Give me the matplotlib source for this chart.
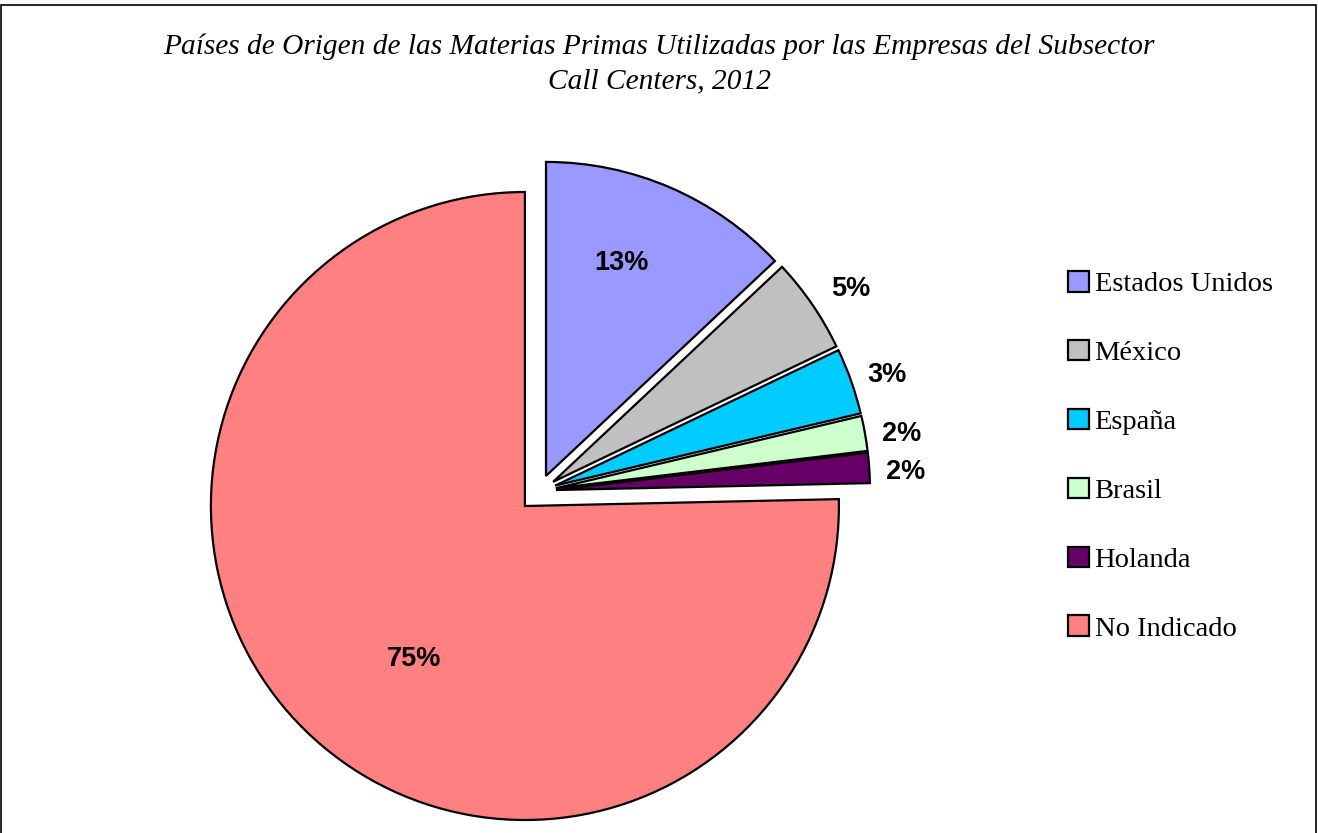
import numpy as np
import matplotlib
matplotlib.use("Agg")
import matplotlib.pyplot as plt
from matplotlib.patches import Patch, Rectangle

# data
paises = ["Estados Unidos", "México", "España", "Brasil", "Holanda", "No Indicado"]
porcentajes = [13.0, 4.9, 3.4, 1.8, 1.55, 75.35]
colores = ["#9999FF", "#C0C0C0", "#00CCFF", "#CCFFCC", "#660066", "#FF8080"]
separacion = [0.053, 0.053, 0.053, 0.053, 0.053, 0.066]

titulo = ("Países de Origen de las Materias Primas Utilizadas por las Empresas del Subsector\n"
          "Call Centers, 2012")

W, H = 1318, 833
fig = plt.figure(figsize=(W / 100, H / 100), dpi=100)

# pie axes: centre at (539, 491) px from top-left, radius 314 px
R = 314.0
cx, cy = 539.4, H - 491.2
half = 420.0
ax = fig.add_axes([(cx - half) / W, (cy - half) / H, 2 * half / W, 2 * half / H])

wedges, texts, autotexts = ax.pie(
    porcentajes, colors=colores, explode=separacion, startangle=90,
    counterclock=False, autopct="%1.0f%%", radius=1.0,
    wedgeprops=dict(edgecolor="black", linewidth=1.6),
    textprops=dict(fontsize=19.5, fontweight="bold", family="Liberation Sans"))

# pie() resets the limits, so set them afterwards
ax.set_xlim(-half / R, half / R)
ax.set_ylim(-half / R, half / R)
ax.set_aspect("equal")
ax.axis("off")

# move percentage labels: big slices inside, small ones outside
for i, (w, t) in enumerate(zip(wedges, autotexts)):
    mid = np.deg2rad((w.theta1 + w.theta2) / 2)
    ox = separacion[i] * np.cos(mid)
    oy = separacion[i] * np.sin(mid)
    if i == 0:
        r, ang = 0.72, mid + np.deg2rad(4)
    elif i == 5:
        r, ang = 0.6, mid + np.deg2rad(8.5)
    elif i == 1:
        r, ang = 1.13, mid - np.deg2rad(1.5)
    else:
        r, ang = 1.115, mid - np.deg2rad(1.1)
    t.set_position((ox + r * np.cos(ang), oy + r * np.sin(ang)))
    t.set_color("black")
    t.set_clip_on(False)
for w in wedges:
    w.set_clip_on(False)

fig.text(0.5, 1 - 64 / H, titulo, ha="center", va="center", fontsize=21.2,
         style="italic", family="Liberation Serif", linespacing=1.45)

handles = [Patch(facecolor=c, edgecolor="black", linewidth=1.6) for c in colores]
leg = fig.legend(handles, paises, loc="upper left", bbox_to_anchor=(1057 / W, 1 - 260 / H),
                 frameon=False, prop=dict(family="Liberation Serif", size=20.5),
                 labelspacing=1.5, handlelength=0.72, handleheight=0.72,
                 handletextpad=0.2, borderaxespad=0)

fig.patches.append(Rectangle((1 / W, -0.05), (W - 3) / W, 1.05 - 5 / H,
                             transform=fig.transFigure, fill=False,
                             edgecolor="black", linewidth=1.2))

fig.savefig("out.png", dpi=100, facecolor="white")
